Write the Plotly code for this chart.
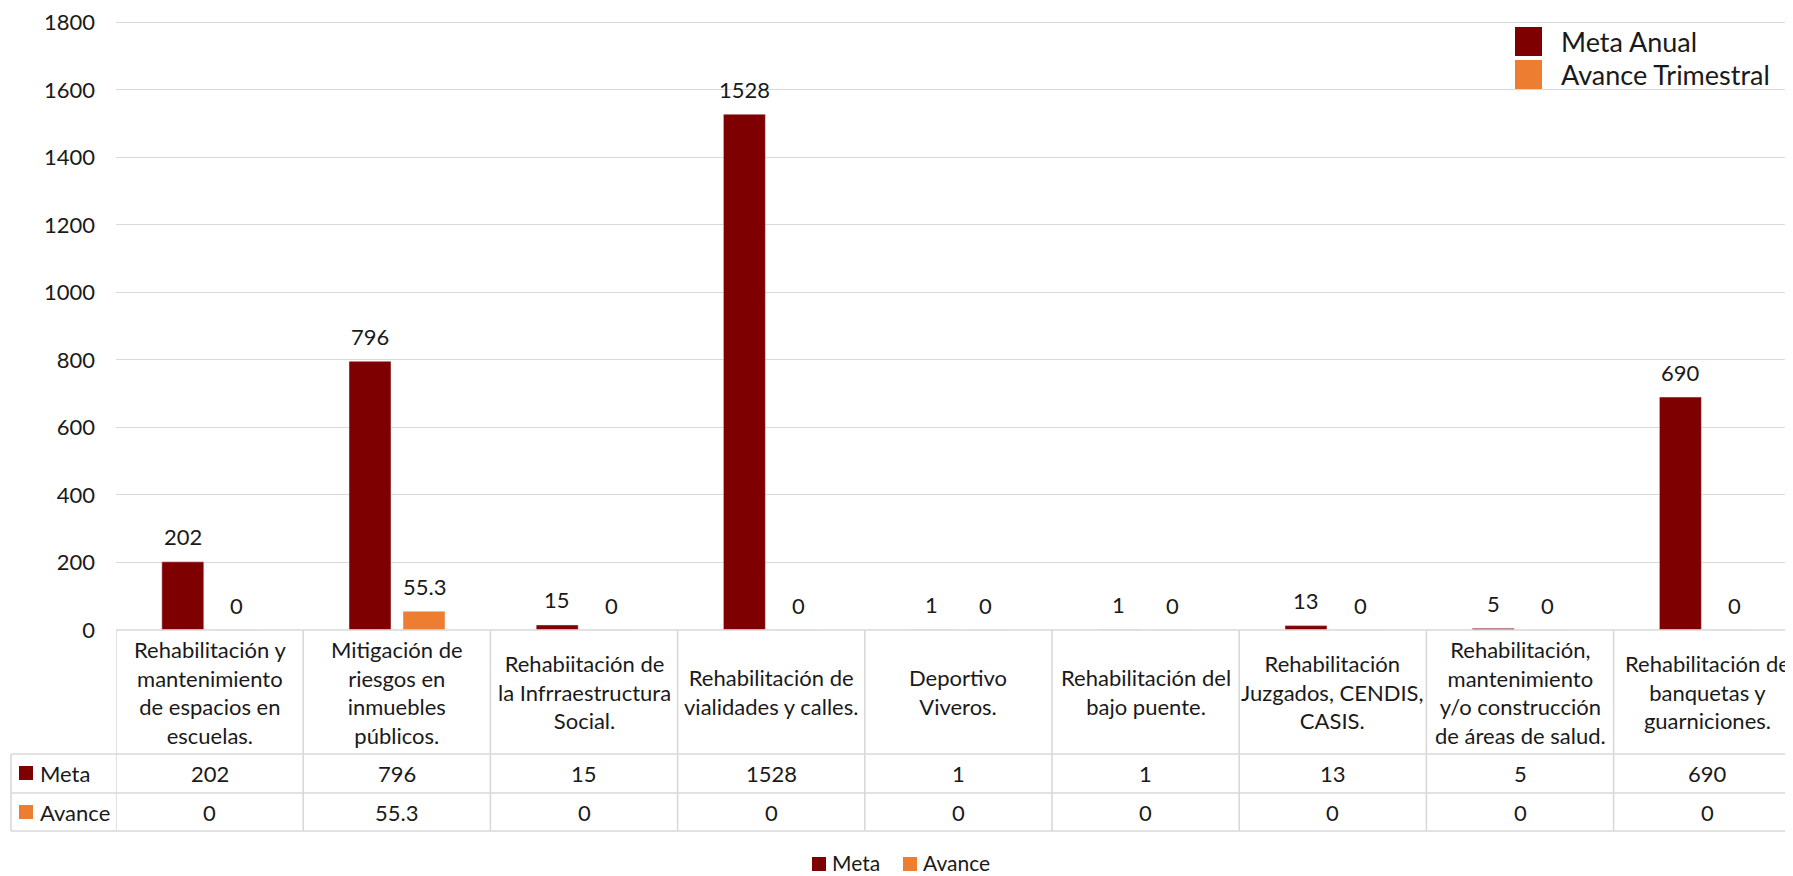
import plotly.graph_objects as go

# ---------------- data ----------------
categories = [
    "Rehabilitación y<br>mantenimiento<br>de espacios en<br>escuelas.",
    "Mitigación de<br>riesgos en<br>inmuebles<br>públicos.",
    "Rehabiitación de<br>la Infrraestructura<br>Social.",
    "Rehabilitación de<br>vialidades y calles.",
    "Deportivo<br>Viveros.",
    "Rehabilitación del<br>bajo puente.",
    "Rehabilitación<br>Juzgados, CENDIS,<br>CASIS.",
    "Rehabilitación,<br>mantenimiento<br>y/o construcción<br>de áreas de salud.",
    "Rehabilitación de<br>banquetas y<br>guarniciones.",
]
meta = [202, 796, 15, 1528, 1, 1, 13, 5, 690]
avance = [0, 55.3, 0, 0, 0, 0, 0, 0, 0]
meta_labels = ["202", "796", "15", "1528", "1", "1", "13", "5", "690"]
avance_labels = ["0", "55.3", "0", "0", "0", "0", "0", "0", "0"]
y_ticks = [0, 200, 400, 600, 800, 1000, 1200, 1400, 1600, 1800]
series_names = ["Meta", "Avance"]
legend_top = ["Meta Anual", "Avance Trimestral"]

# ---------------- style / layout constants ----------------
C_META = "#7F0000"
C_AV = "#ED7D31"
GRID = "#D9D9D9"
TXT = "#1A1A1A"
FONT = "Lato"
FS = 22

OFF = 8  # default page body margin
SCR_W, SCR_H = 1793, 876
FIG_W, FIG_H = SCR_W - OFF, SCR_H - OFF
L_S, T_S, B_S = 116, 21.0, 630.0   # plot area in screen pixels
L, T = L_S - OFF, T_S - OFF
H = B_S - T_S
W = FIG_W - L
COL = 187.2  # pixel width of one category
Y_MAX = 1804

def px(xs):
    return (xs - L_S) / W

def py(ys):
    return (B_S - ys) / H

x_idx = list(range(len(categories)))
bar_w = 42 / COL
meta_c = -26.8 / COL
av_c = 27.2 / COL

fig = go.Figure()
fig.add_trace(go.Bar(x=x_idx, y=meta, name=series_names[0], marker_color=C_META,
                     width=bar_w, offset=meta_c - bar_w / 2, hoverinfo="skip"))
fig.add_trace(go.Bar(x=x_idx, y=avance, name=series_names[1], marker_color=C_AV,
                     width=bar_w, offset=av_c - bar_w / 2, hoverinfo="skip"))

ann = []
shapes = []

def txt(size=FS):
    return dict(family=FONT, size=size, color=TXT)

# data labels
for i, (v, lab) in enumerate(zip(meta, meta_labels)):
    ann.append(dict(x=i + meta_c, y=v, xref="x", yref="y", text=lab, showarrow=False,
                    xanchor="center", yanchor="middle", yshift=25, font=txt()))
for i, (v, lab) in enumerate(zip(avance, avance_labels)):
    ann.append(dict(x=i + av_c, y=v, xref="x", yref="y", text=lab, showarrow=False,
                    xanchor="center", yanchor="middle", yshift=25, font=txt()))

# data table
line = dict(color=GRID, width=1.6)
for k in range(len(categories) + 1):
    shapes.append(dict(type="line", xref="x", yref="paper", x0=k - 0.5, x1=k - 0.5,
                       y0=py(630), y1=py(831), line=line))
shapes.append(dict(type="line", xref="x", yref="paper", x0=-0.5, x1=len(categories),
                   y0=py(630), y1=py(630), line=line))
for yy in (754, 793, 831):
    shapes.append(dict(type="line", xref="paper", yref="paper", x0=px(11), x1=1.01,
                       y0=py(yy), y1=py(yy), line=line))
shapes.append(dict(type="line", xref="paper", yref="paper", x0=px(11), x1=px(11),
                   y0=py(754), y1=py(831), line=line))

for i, cat in enumerate(categories):
    ann.append(dict(x=i, y=py(692), xref="x", yref="paper", text=cat, showarrow=False,
                    align="center", xanchor="center", yanchor="middle", font=txt()))
    ann.append(dict(x=i, y=py(773), xref="x", yref="paper", text=meta_labels[i], showarrow=False,
                    xanchor="center", yanchor="middle", font=txt()))
    ann.append(dict(x=i, y=py(812), xref="x", yref="paper", text=avance_labels[i], showarrow=False,
                    xanchor="center", yanchor="middle", font=txt()))

for name, col, yc in ((series_names[0], C_META, 773), (series_names[1], C_AV, 812)):
    shapes.append(dict(type="rect", xref="paper", yref="paper", x0=px(19), x1=px(33),
                       y0=py(yc + 7), y1=py(yc - 7), fillcolor=col, line=dict(width=0)))
    ann.append(dict(x=px(38), y=py(yc), xref="paper", yref="paper", text=name, showarrow=False,
                    xanchor="left", yanchor="middle", font=txt()))

# top legend
for name, col, (y0, y1) in ((legend_top[0], C_META, (27, 56)), (legend_top[1], C_AV, (60, 89))):
    shapes.append(dict(type="rect", xref="paper", yref="paper", x0=px(1515), x1=px(1542),
                       y0=py(y1), y1=py(y0), fillcolor=col, line=dict(width=0)))
    ann.append(dict(x=px(1559), y=py((y0 + y1) / 2), xref="paper", yref="paper", text=name,
                    showarrow=False, xanchor="left", yanchor="middle", font=txt(27)))

# bottom legend
for name, col, xs in ((series_names[0], C_META, 812), (series_names[1], C_AV, 903)):
    shapes.append(dict(type="rect", xref="paper", yref="paper", x0=px(xs), x1=px(xs + 14),
                       y0=py(871), y1=py(857), fillcolor=col, line=dict(width=0)))
    ann.append(dict(x=px(xs + 18), y=py(863), xref="paper", yref="paper", text=name,
                    showarrow=False, xanchor="left", yanchor="middle", font=txt(21)))

fig.update_layout(
    width=FIG_W, height=FIG_H,
    margin=dict(l=L, r=0, t=T, b=FIG_H - (B_S - OFF), pad=0),
    paper_bgcolor="white", plot_bgcolor="white",
    showlegend=False, barmode="overlay",
    annotations=ann, shapes=shapes,
    xaxis=dict(range=[-0.5, -0.5 + W / COL], showticklabels=False, showgrid=False,
               zeroline=False, showline=False, ticks=""),
    yaxis=dict(range=[0, Y_MAX], tickvals=y_ticks, ticktext=[str(t) for t in y_ticks],
               showgrid=True, gridcolor=GRID, gridwidth=1.3, zeroline=False, showline=False,
               ticks="", ticklabelstandoff=20, ticklabeloverflow="allow",
               tickfont=dict(family=FONT, size=22, color=TXT)),
    font=dict(family=FONT, color=TXT),
)

fig.write_html("out.html")
